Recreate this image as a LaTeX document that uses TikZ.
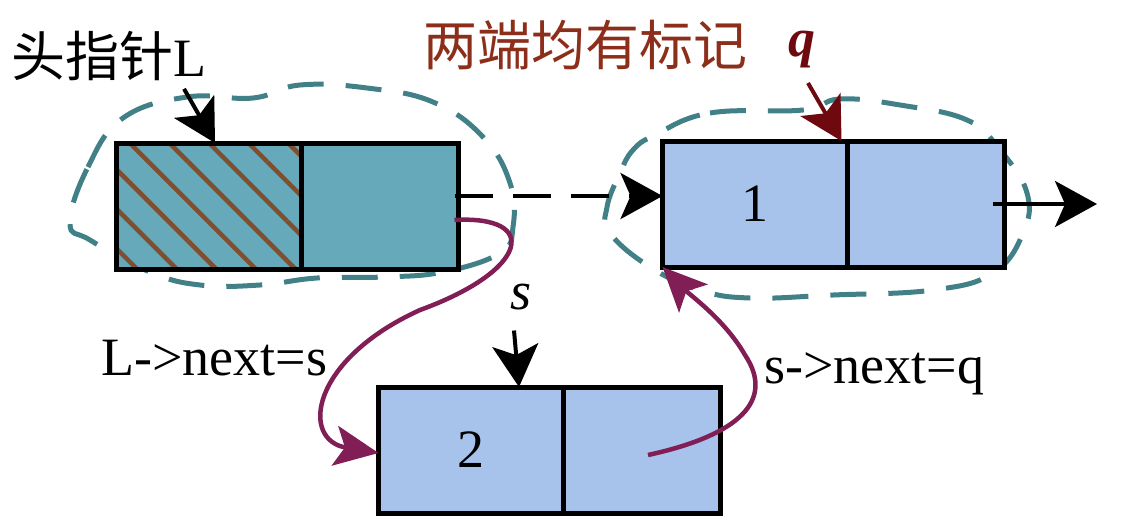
\documentclass[tikz,border=0pt]{standalone}
\usepackage{fontspec}
\setmainfont{Liberation Serif}
\newfontfamily\cjk{Noto Sans CJK SC}
\usetikzlibrary{positioning,arrows.meta,patterns.meta}
\definecolor{headteal}{HTML}{65A9BA}
\definecolor{nodeblue}{HTML}{A7C3EC}
\definecolor{ringteal}{HTML}{428088}
\definecolor{hatchbrown}{HTML}{7F4F30}
\definecolor{titlebrown}{HTML}{8C2E1A}
\definecolor{qred}{HTML}{6E0A0F}
\definecolor{linkpurple}{HTML}{801E55}
\begin{document}
\begin{tikzpicture}[x=1pt,y=-1pt,
  cell/.style={draw, line width=5pt, outer sep=0pt, inner sep=0pt, minimum height=126pt},
  datacell/.style={cell, minimum width=185pt},
  linkcell/.style={cell, minimum width=157pt},
  big/.style={font=\fontsize{54}{60}\selectfont},
  ptr/.style={line width=4pt, -{Stealth[length=42pt,width=46pt,inset=10pt]}},
  link/.style={color=linkpurple, line width=4.5pt, -{Stealth[length=44pt,width=40pt,inset=10pt]}},
  ring/.style={draw=ringteal, line width=5pt, dash pattern=on 36pt off 22pt}]
\useasboundingbox (0,0) rectangle (1142,528);

% dashed marks round both ends
\draw[ring] plot[smooth cycle, tension=0.7] coordinates {(70,223) (88,167) (123,118) (187,97)
  (253,98) (300,85) (367,88) (433,102) (483,137) (510,183) (513,227) (500,253) (443,272)
  (383,277) (317,278) (260,285) (200,285) (150,272) (90,240)};
\draw[ring] plot[smooth cycle, tension=0.7] coordinates {(655,135) (710,113) (803,110) (840,99)
  (900,105) (967,120) (1000,150) (1027,193) (1023,233) (993,273) (933,290) (833,295)
  (750,298) (700,290) (650,267) (610,233) (607,207) (620,173) (633,150)};

% head node
\node[datacell, preaction={fill=headteal}, pattern={Lines[angle=-45,distance=28pt,line width=4.5pt]},
  pattern color=hatchbrown] (hL) at (209,206) {};
\node[linkcell, fill=headteal, right=0pt of hL] (hR) {};

% node 1 and node 2
\node[datacell, fill=nodeblue, big] (n1L) at (755,204) {1};
\node[linkcell, fill=nodeblue, right=0pt of n1L] (n1R) {};
\node[datacell, fill=nodeblue, big] (n2L) at (471,450) {2};
\node[linkcell, fill=nodeblue, right=0pt of n2L] (n2R) {};

% labels
\node[big, anchor=base west] (lblL) at (8,76) {{\cjk 头指针}L};
\node[big, anchor=base west, text=titlebrown] (title) at (420,65) {\cjk 两端均有标记};
\node[big, text=qred] (q) at (802,50) {\bfseries\itshape q};
\node[big] (s) at (521,297) {\itshape s};
\node[big, anchor=base west] (lblLs) at (98,375) {L->next=s};
\node[big, anchor=base west] (lblsq) at (761,383) {s->next=q};
\coordinate (nil) at (1097,204);

% pointers
\draw[ptr] ([xshift=75pt,yshift=-5pt]lblL.south) -- ([xshift=6pt]hL.north);
\draw[ptr, dash pattern=on 38pt off 20pt] ([xshift=-4pt,yshift=10pt]hR.east) -- ([yshift=8pt]n1L.west);
\draw[ptr] ([xshift=-12pt]n1R.east) -- (nil);
\draw[ptr, color=qred] ([xshift=6pt,yshift=-11pt]q.south) -- ([xshift=-6pt]n1L.north east);
\draw[ptr] ([xshift=-7pt,yshift=-17pt]s.south) -- ([xshift=48pt]n2L.north);

% new links
\draw[link] ([xshift=-4pt,yshift=-14pt]hR.east) .. controls (540,215) and (530,270) .. (420,310)
  .. controls (310,360) and (300,440) .. ([yshift=-3pt]n2L.west);
\draw[link] ([xshift=6pt,yshift=-5pt]n2R.center) .. controls (740,435) and (775,400) .. (745,355)
  .. controls (725,320) and (690,295) .. (n1L.south west);
\end{tikzpicture}
\end{document}
